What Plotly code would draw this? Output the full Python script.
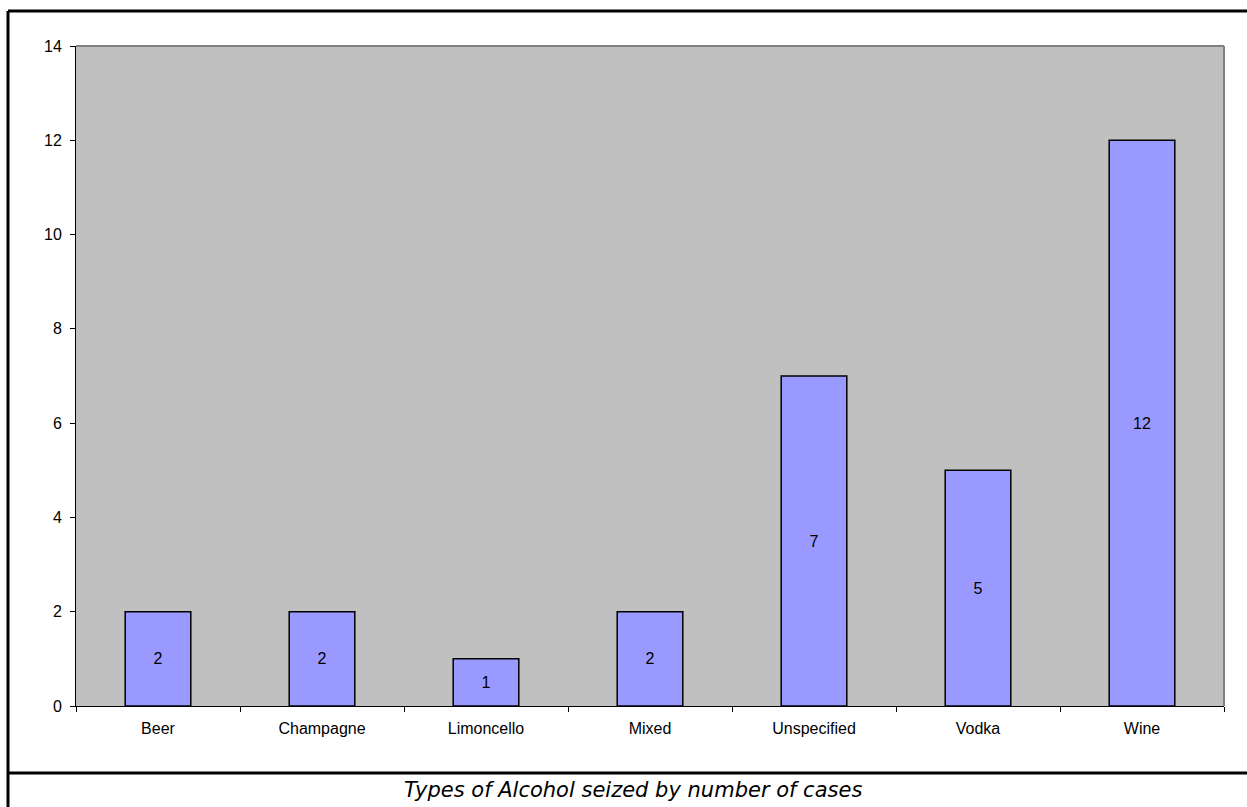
import plotly.graph_objects as go

# Seizure counts by type of alcohol
categories = ["Beer", "Champagne", "Limoncello", "Mixed", "Unspecified", "Vodka", "Wine"]
cases = [2, 2, 1, 2, 7, 5, 12]
y_ticks = [0, 2, 4, 6, 8, 10, 12, 14]
caption = "Types of Alcohol seized by number of cases"

W, H = 1247, 807
L, R, T, B = 76, 23, 46, 101
pw, ph = W - L - R, H - T - B


def px_x(x):
    return (x - L) / pw


def px_y(y):
    return (H - B - y) / ph


fig = go.Figure(
    go.Bar(
        x=categories,
        y=cases,
        width=0.4,
        marker=dict(color="#9999FF", line=dict(color="#000000", width=1.5)),
        text=[str(v) for v in cases],
        textposition="inside",
        insidetextanchor="middle",
        textangle=0,
        textfont=dict(family="Liberation Sans, Arial", size=16, color="#000000"),
        hoverinfo="x+y",
    )
)

fig.update_layout(
    width=W,
    height=H,
    margin=dict(l=L, r=R, t=T, b=B, autoexpand=False),
    paper_bgcolor="#FFFFFF",
    plot_bgcolor="#C0C0C0",
    showlegend=False,
    font=dict(family="Liberation Sans, Arial", size=16, color="#000000"),
    uniformtext=dict(minsize=16, mode="show"),
)

fig.update_xaxes(
    type="category",
    tickson="boundaries",
    ticks="outside",
    ticklen=5,
    tickcolor="#000000",
    showline=True,
    linecolor="#000000",
    linewidth=1,
    showgrid=False,
    zeroline=False,
    tickfont=dict(size=16),
    ticklabelstandoff=8,
)

fig.update_yaxes(
    range=[0, 14],
    tickvals=y_ticks,
    ticks="outside",
    ticklen=5,
    tickcolor="#000000",
    showline=True,
    linecolor="#000000",
    linewidth=1,
    showgrid=False,
    zeroline=False,
    tickfont=dict(size=16),
    ticklabelstandoff=5,
)

# Gray frame on the top and right sides of the plotting area
fig.add_shape(type="line", xref="paper", yref="paper", x0=0, x1=1, y0=1, y1=1,
              line=dict(color="#808080", width=2))
fig.add_shape(type="line", xref="paper", yref="paper", x0=1, x1=1, y0=0, y1=1,
              line=dict(color="#808080", width=2))

# Outer box and the caption row below the chart
fig.add_shape(type="line", xref="paper", yref="paper",
              x0=px_x(8), x1=px_x(W + 20), y0=px_y(11), y1=px_y(11),
              line=dict(color="#000000", width=3))
fig.add_shape(type="line", xref="paper", yref="paper",
              x0=px_x(8), x1=px_x(8), y0=px_y(11), y1=px_y(H + 20),
              line=dict(color="#000000", width=3))
fig.add_shape(type="line", xref="paper", yref="paper",
              x0=px_x(8), x1=px_x(W + 20), y0=px_y(773), y1=px_y(773),
              line=dict(color="#000000", width=3))

fig.add_annotation(
    x=px_x(633), y=px_y(790), xref="paper", yref="paper",
    text="<i>" + caption + "</i>", showarrow=False,
    xanchor="center", yanchor="middle",
    font=dict(family="DejaVu Sans, Verdana", size=21, color="#000000"),
)

fig.write_html("out.html")
